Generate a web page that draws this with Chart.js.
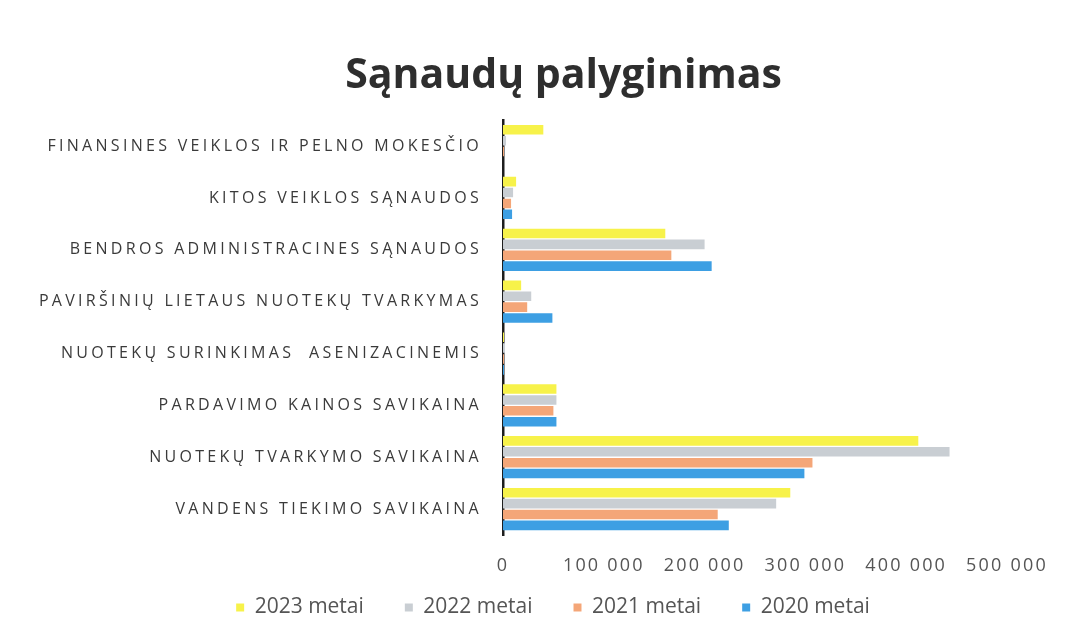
<!DOCTYPE html>
<html>
<head>
<meta charset="utf-8">
<script src="https://cdn.jsdelivr.net/npm/chart.js@4"></script>
<style>
  html, body { margin: 0; padding: 0; background: #fff; }
  #wrap { width: 1075px; height: 620px; }
</style>
</head>
<body>
<div id="wrap"><canvas id="chart1" width="1075" height="620"></canvas></div>
<script>
// Categories, top to bottom
const categories = [
    'FINANSINES VEIKLOS IR PELNO MOKESČIO',
    'KITOS VEIKLOS SĄNAUDOS',
    'BENDROS ADMINISTRACINES SĄNAUDOS',
    'PAVIRŠINIŲ LIETAUS NUOTEKŲ TVARKYMAS',
    'NUOTEKŲ SURINKIMAS  ASENIZACINEMIS',
    'PARDAVIMO KAINOS SAVIKAINA',
    'NUOTEKŲ TVARKYMO SAVIKAINA',
    'VANDENS TIEKIMO SAVIKAINA'
];

// Series values
const metai2023 = [40000, 13000, 161000, 18000, 1000, 53000, 412000, 285000];
const metai2022 = [3000, 10000, 200000, 28000, 2000, 53000, 443000, 271000];
const metai2021 = [1000, 8000, 167000, 24000, 1000, 50000, 307000, 213000];
const metai2020 = [0, 9000, 207000, 49000, 1000, 53000, 299000, 224000];

const xTicks = [0, 100000, 200000, 300000, 400000, 500000];

// wraps a scale's label drawing with some letter spacing, no clipping
function spacedLabels(scale, spacing) {
    if (scale._spaced) return;
    const orig = scale.drawLabels;
    scale._computeLabelArea = () => undefined;
    scale.drawLabels = function(area) {
        const ctx = this.ctx;
        ctx.save();
        ctx.letterSpacing = spacing;
        orig.call(this, area);
        ctx.restore();
    };
    scale._spaced = true;
}

const spacingPlugin = {
    id: 'spacing',
    afterUpdate(chart) {
        spacedLabels(chart.scales.y, '3.3px');
        spacedLabels(chart.scales.x, '2.2px');
    }
};

let chart1 = new Chart(document.getElementById('chart1'), {
    type: 'bar',
    data: {
        labels: categories,
        datasets: [
            { label: '2023 metai', data: metai2023, backgroundColor: '#f7f24a' },
            { label: '2022 metai', data: metai2022, backgroundColor: '#c9ced3' },
            { label: '2021 metai', data: metai2021, backgroundColor: '#f4a678' },
            { label: '2020 metai', data: metai2020, backgroundColor: '#3d9fe3' }
        ]
    },
    options: {
        indexAxis: 'y',
        responsive: false,
        maintainAspectRatio: false,
        animation: false,
        categoryPercentage: 0.84,
        barPercentage: 0.88,
        layout: {
            padding: { left: 52, right: 0, top: 0, bottom: 0 }
        },
        scales: {
            x: {
                min: 0,
                max: 500000,
                afterBuildTicks: (scale) => {
                    scale.ticks = xTicks.map(v => ({ value: v }));
                },
                afterFit: (scale) => {
                    scale.height = 42;
                    scale.paddingRight = 68;
                },
                grid: { display: false },
                border: { display: false },
                ticks: {
                    padding: 12,
                    color: '#555',
                    font: { family: 'Open Sans', size: 18 },
                    callback: (v) => String(v).replace(/\B(?=(\d{3})+(?!\d))/g, ' ')
                }
            },
            y: {
                afterFit: (scale) => { scale.width = 451; },
                grid: { display: false },
                border: { display: true, color: '#1e1e1e', width: 2.5 },
                ticks: {
                    padding: 13,
                    color: '#3a3a3a',
                    font: { family: 'Open Sans', size: 16 }
                }
            }
        },
        plugins: {
            title: {
                display: true,
                text: 'Sąnaudų palyginimas',
                color: '#2e2e2e',
                font: { family: 'Open Sans', size: 41, weight: 'bold' },
                padding: { top: 52, bottom: 19 }
            },
            legend: {
                display: true,
                position: 'bottom',
                maxHeight: 43,
                labels: {
                    boxWidth: 8,
                    boxHeight: 8,
                    padding: 20,
                    color: '#555',
                    font: { family: 'Open Sans', size: 21 },
                    generateLabels: (chart) => Chart.defaults.plugins.legend.labels.generateLabels(chart)
                        .map(item => { item.text = item.text + '\u2003'; return item; })
                }
            },
            tooltip: { enabled: false }
        }
    },
    plugins: [spacingPlugin]
});
</script>
</body>
</html>
